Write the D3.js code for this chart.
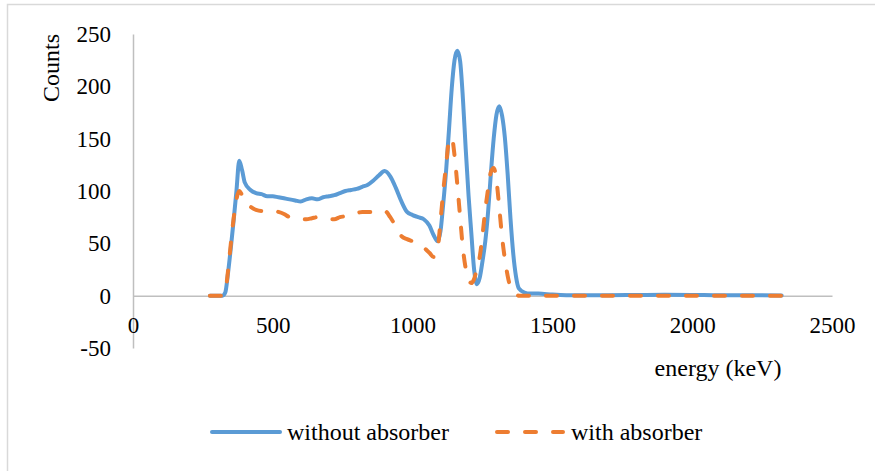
<!DOCTYPE html>
<html>
<head>
<meta charset="utf-8">
<script src="https://cdn.jsdelivr.net/npm/d3@7"></script>
<style>
  html, body { margin: 0; padding: 0; background: #fff; }
  svg { display: block; }
  svg text { font-family: "Liberation Serif", "Times New Roman", serif; fill: #000; }
</style>
</head>
<body>
<svg id="chart" width="875" height="471"></svg>
<script>
// Gamma spectrum: energy bins (keV) and counts for the two measurements
const energy = [275, 300, 320, 330, 340, 350, 360, 370, 380, 390,
  400, 420, 440, 460, 480, 500, 520, 540, 560, 580,
  600, 620, 640, 660, 680, 700, 720, 740, 760, 780,
  800, 820, 840, 860, 880, 900, 920, 940, 960, 980,
  1000, 1020, 1040, 1060, 1075, 1090, 1100, 1110, 1120, 1130,
  1140, 1150, 1160, 1170, 1180, 1190, 1200, 1210, 1220, 1230,
  1240, 1250, 1260, 1270, 1280, 1290, 1300, 1310, 1320, 1330,
  1340, 1350, 1360, 1370, 1380, 1400, 1420, 1450, 1500, 1550,
  1600, 1700, 1800, 1900, 2000, 2100, 2200, 2320];

const withoutAbsorber = [0, 0, 0, 3, 22, 46, 72, 100, 129, 120,
  108, 101, 98, 97, 95, 95, 94, 93, 92, 91,
  90, 92, 93, 92, 94, 95, 96, 98, 100, 101,
  102, 104, 106, 110, 115, 119, 114, 103, 90, 80,
  77, 75, 73, 67, 58, 52, 62, 89, 120, 158,
  198, 225, 234, 224, 188, 140, 96, 60, 25, 11,
  17, 33, 52, 80, 117, 150, 173, 181, 172, 151,
  116, 74, 40, 18, 7, 3, 2, 2, 1, 0.5,
  0.5, 0.4, 0.6, 0.8, 0.7, 0.4, 0.5, 0.2];

const withAbsorber = [0, 0, 0, 4, 24, 50, 74, 92, 100, 96,
  90, 85, 82, 81, 81, 81, 80, 78, 75, 74,
  73, 73, 74, 75, 74, 73, 73, 75, 76, 78,
  79, 80, 80, 80, 81, 81, 75, 66, 57, 54,
  52, 50, 46, 41, 37, 46, 72, 101, 125, 148,
  151, 134, 106, 75, 45, 26, 16, 12, 16, 26,
  37, 58, 82, 102, 118, 122, 110, 84, 56, 35,
  19, 8, 3, 1, 0, 0, 0, 0, 0, 0,
  0, 0, 0, 0, 0, 0, 0, 0];

const xTicks = [0, 500, 1000, 1500, 2000, 2500];
const yTicks = [-50, 0, 50, 100, 150, 200, 250];

const seriesNames = ["without absorber", "with absorber"];
const seriesColors = ["#5B9BD5", "#ED7D31"];

const svg = d3.select("#chart");
const serif = '"Liberation Serif", "Times New Roman", serif';

// outer frame of the chart area
svg.append("rect")
  .attr("x", 7.5).attr("y", 4.5)
  .attr("width", 900).attr("height", 500)
  .attr("fill", "none")
  .attr("stroke", "#D9D9D9")
  .attr("stroke-width", 1.5);

const x = d3.scaleLinear().domain([0, 2500]).range([133, 832]);
const y = d3.scaleLinear().domain([-50, 250]).range([348, 34]);
const plain = (d) => String(d);

// y axis (vertical line at energy 0)
const yAxis = svg.append("g")
  .attr("transform", `translate(${x(0)},0)`)
  .call(d3.axisLeft(y).tickValues(yTicks).tickFormat(plain)
    .tickSize(0).tickSizeOuter(0).tickPadding(22))
  .attr("font-family", serif)
  .attr("font-size", 23);
yAxis.select(".domain").attr("stroke", "#BFBFBF").attr("stroke-width", 1.5);

// x axis along counts = 0
const xAxis = svg.append("g")
  .attr("transform", `translate(0,${y(0)})`)
  .call(d3.axisBottom(x).tickValues(xTicks).tickFormat(plain)
    .tickSize(0).tickSizeOuter(0).tickPadding(21))
  .attr("font-family", serif)
  .attr("font-size", 23);
xAxis.select(".domain").attr("stroke", "#BFBFBF").attr("stroke-width", 1.5);

// axis titles
svg.append("text")
  .attr("transform", "translate(59,68) rotate(-90)")
  .attr("text-anchor", "middle")
  .style("font-size", "24px")
  .text("Counts");

svg.append("text")
  .attr("x", 718).attr("y", 376)
  .attr("text-anchor", "middle")
  .style("font-size", "24px")
  .text("energy (keV)");

// spectra
const line = (vals) => d3.line()
  .x((d, i) => x(energy[i]))
  .y((d) => y(d))
  .curve(d3.curveMonotoneX)(vals);

svg.append("path")
  .attr("d", line(withoutAbsorber))
  .attr("fill", "none")
  .attr("stroke", seriesColors[0])
  .attr("stroke-width", 4)
  .attr("stroke-linejoin", "round")
  .attr("stroke-linecap", "round");

svg.append("path")
  .attr("d", line(withAbsorber))
  .attr("fill", "none")
  .attr("stroke", seriesColors[1])
  .attr("stroke-width", 4)
  .attr("stroke-dasharray", "11,17")
  .attr("stroke-linejoin", "round")
  .attr("stroke-linecap", "round");

// legend
const legendY = 432;
const legend = [
  { x0: 212, x1: 280, tx: 287, dash: null },
  { x0: 497, x1: 563, tx: 571, dash: "11,17" }
];
legend.forEach((l, i) => {
  const ln = svg.append("line")
    .attr("x1", l.x0).attr("x2", l.x1)
    .attr("y1", legendY).attr("y2", legendY)
    .attr("stroke", seriesColors[i])
    .attr("stroke-width", 4)
    .attr("stroke-linecap", "round");
  if (l.dash) ln.attr("stroke-dasharray", l.dash);
  svg.append("text")
    .attr("x", l.tx).attr("y", legendY + 8)
    .style("font-size", "24px")
    .text(seriesNames[i]);
});
</script>
</body>
</html>
